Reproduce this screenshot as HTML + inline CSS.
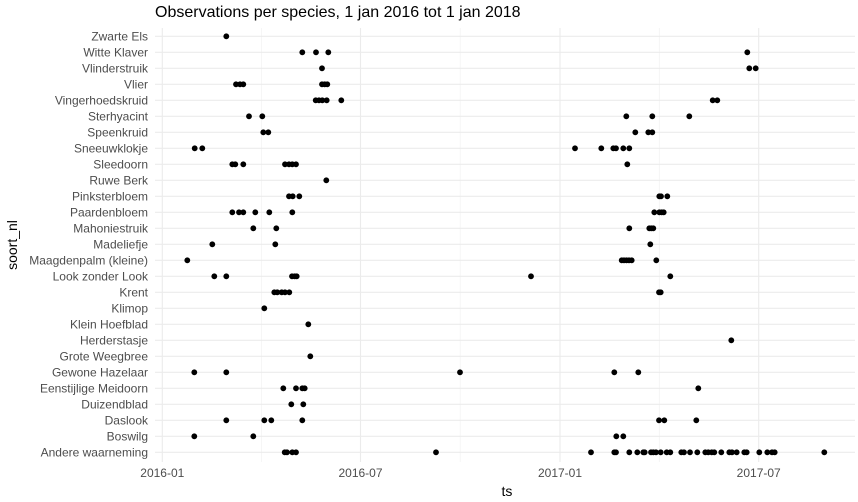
<!DOCTYPE html>
<html><head><meta charset="utf-8"><style>
html,body{margin:0;padding:0;background:#fff;}
svg{display:block;font-family:"Liberation Sans",Arial,sans-serif;}
</style></head><body>
<svg id="s" width="858" height="502" viewBox="0 0 858 502" xmlns="http://www.w3.org/2000/svg">
<rect width="858" height="502" fill="#fff"/>
<g id="grid"></g>
<g id="labels" font-size="12" fill="#4d4d4d" text-anchor="end"></g>
<g id="dots" fill="#000"></g>
<text x="155" y="17" font-size="16" fill="#000">Observations per species, 1 jan 2016 tot 1 jan 2018</text>
<g font-size="12" fill="#4d4d4d" text-anchor="middle">
<text x="162.3" y="477">2016-01</text>
<text x="360.5" y="477">2016-07</text>
<text x="560" y="477">2017-01</text>
<text x="758.7" y="477">2017-07</text>
</g>
<text x="507" y="496" font-size="14" fill="#000" text-anchor="middle">ts</text>
<text transform="translate(17,245) rotate(-90)" font-size="14" fill="#000" text-anchor="middle">soort_nl</text>
</svg>
<script>
var names=["Zwarte Els","Witte Klaver","Vlinderstruik","Vlier","Vingerhoedskruid","Sterhyacint","Speenkruid","Sneeuwklokje","Sleedoorn","Ruwe Berk","Pinksterbloem","Paardenbloem","Mahoniestruik","Madeliefje","Maagdenpalm (kleine)","Look zonder Look","Krent","Klimop","Klein Hoefblad","Herderstasje","Grote Weegbree","Gewone Hazelaar","Eenstijlige Meidoorn","Duizendblad","Daslook","Boswilg","Andere waarneming"];
var pts=[[226.3],[302.3,316,328.3,747.3],[322,749.3,755.7],[236,240,243.3,322,324.7,327.3],[315.7,319,322.3,326.7,341.3,712.7,717.3],[249,262.3,626.3,652.3,689.3],[263.3,268.3,635.3,648.3,652.3],[194.7,202.3,575,601.3,613.3,616,623.3,629.3],[232.3,235.3,243.3,285,289,292.3,296,627.3],[326.3],[289,292.7,299.3,659.3,661,667.3],[232.3,239,243.3,255.3,269.3,292.3,654.3,659.3,661.7,663.7],[253.3,276.3,629.3,649.3,651.3,653.3],[212.3,275.3,650.3],[187.3,621.7,624,626.5,629,631.7,656.3],[214.3,226.3,292,294.7,296.7,531,670.3],[274.3,277.3,281.7,285,289.3,659,660.7],[264.3],[308.3],[731.3],[310.3],[194.3,226.3,460,614.3,638.3],[283.3,296,302.3,304.7,698.3],[291.3,303.3],[226.3,264.3,271.3,302.3,659,664.3,696.3],[194.3,253.3,616.3,623.3],[284.7,287,292.3,296,436,591,614.3,616,629.3,637.3,643.3,644.7,651,653.3,656,660.7,666.7,670.3,681.3,684,690,697.3,705.3,708.3,711.7,714.3,721.3,729.3,732,736.7,744.3,746.7,759.3,767.3,772,774.7,824.3]];
var ns="http://www.w3.org/2000/svg";
function el(t,a,p){var e=document.createElementNS(ns,t);for(var k in a)e.setAttribute(k,a[k]);document.getElementById(p).appendChild(e);return e;}
var L=155,R=855,T=28,B=462;
[261.4,460.2,659.3].forEach(function(x){el("line",{x1:x,x2:x,y1:T,y2:B,stroke:"#f2f2f2","stroke-width":0.7},"grid");});
[162.3,360.5,560,758.7].forEach(function(x){el("line",{x1:x,x2:x,y1:T,y2:B,stroke:"#ebebeb","stroke-width":1.1},"grid");});
names.forEach(function(n,i){var y=36.3+16*i;
el("line",{x1:L,x2:R,y1:y,y2:y,stroke:"#ebebeb","stroke-width":1.1},"grid");
var t=el("text",{x:148,y:y+4.3},"labels");t.textContent=n;
pts[i].forEach(function(x){el("circle",{cx:x,cy:y,r:2.9},"dots");});});
</script>
</body></html>
